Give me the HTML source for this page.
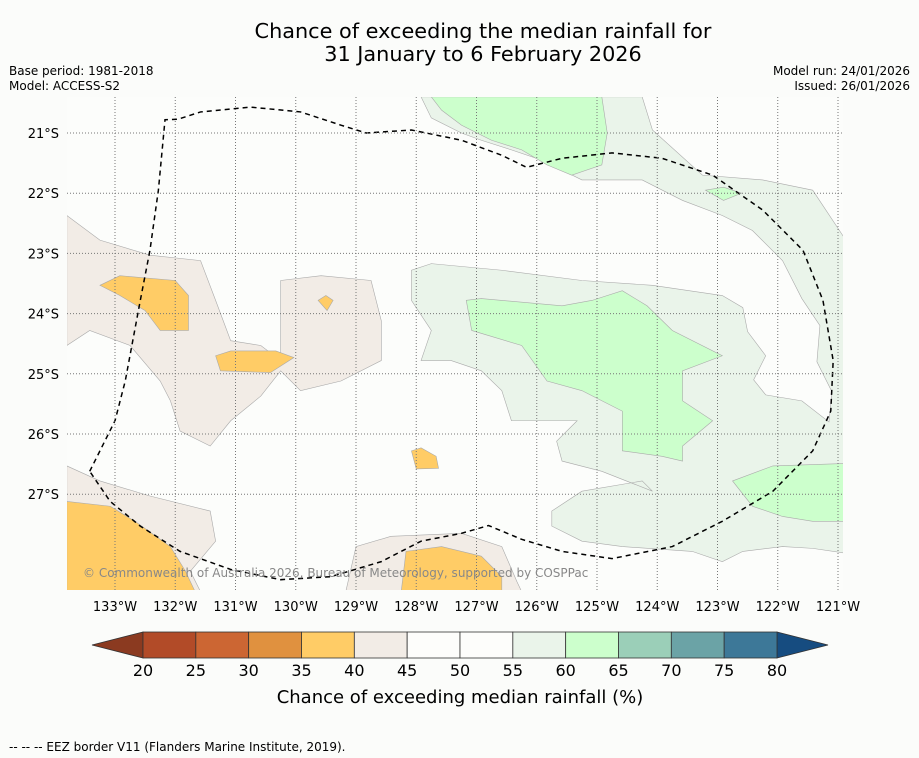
<!DOCTYPE html>
<html><head><meta charset="utf-8"><style>
body{margin:0;background:#fbfcfa;font-family:"DejaVu Sans","Liberation Sans",sans-serif;}
svg{display:block;font-family:"DejaVu Sans","Liberation Sans",sans-serif;}
</style></head><body>
<svg id="c" width="919" height="758" xmlns="http://www.w3.org/2000/svg">
<rect width="919" height="758" fill="#fbfcfa"/>
<text x="483" y="38" font-size="20.8" text-anchor="middle">Chance of exceeding the median rainfall for</text>
<text x="483" y="61" font-size="20.8" text-anchor="middle">31 January to 6 February 2026</text>
<text x="9" y="75" font-size="12">Base period: 1981-2018</text>
<text x="9" y="90" font-size="12">Model: ACCESS-S2</text>
<text x="910" y="75" font-size="12" text-anchor="end">Model run: 24/01/2026</text>
<text x="910" y="90" font-size="12" text-anchor="end">Issued: 26/01/2026</text>
<defs><clipPath id="pc"><rect x="67" y="97" width="776" height="493"/></clipPath></defs>
<g id="map" clip-path="url(#pc)">
<rect x="67" y="97" width="776" height="493" fill="#fcfdfb"/>
</g>
<g id="grid"></g>
<g id="axes"></g>
<text x="83" y="577" font-size="12" fill="#888">© Commonwealth of Australia 2026, Bureau of Meteorology, supported by COSPPac</text>
<g id="cbar"></g>
<text x="460" y="703" font-size="18" text-anchor="middle">Chance of exceeding median rainfall (%)</text>
<text x="9" y="751" font-size="12">--  --  -- EEZ border V11 (Flanders Marine Institute, 2019).</text>
</svg>
<script>
const lonTicks=[133,132,131,130,129,128,127,126,125,124,123,122,121];
const latTicks=[21,22,23,24,25,26,27];
const cbLevels=[20,25,30,35,40,45,50,55,60,65,70,75,80];
const cbColors=["#b24b28","#cc6633","#e0913f","#ffcc66","#f2ece6","#fdfdfb","#fdfdfb","#eaf4ea","#ccffcc","#9bcfb8","#6ba3a6","#3d7898"];
const shapeLevels=[42,42,42,57,38,38,38,38,38,38,62,62,62,62];
// polygons in [lon W, lat S]
const shapes=[
 [[133.8,22.37],[133.25,22.78],[132.42,23.03],[131.58,23.12],[131.33,23.78],[131.08,24.45],[130.58,24.53],[130.25,24.78],[130.25,23.45],[129.58,23.37],[128.75,23.45],[128.58,24.12],[128.58,24.78],[129.25,25.12],[129.92,25.28],[130.25,24.95],[130.58,25.37],[131.08,25.78],[131.42,26.2],[131.92,25.95],[132.08,25.45],[132.25,25.12],[132.75,24.53],[133.42,24.28],[133.8,24.53]],
 [[133.8,26.53],[133.25,26.78],[132.42,27.03],[131.42,27.28],[131.33,27.78],[131.75,28.28],[131.58,28.62],[133.8,28.62]],
 [[129.17,28.62],[129,27.87],[128.42,27.7],[127.25,27.65],[126.58,27.87],[126.33,28.45],[126.25,28.62]],
 [[127.92,20.4],[124.25,20.4],[124.08,20.95],[123.25,21.7],[122.25,21.78],[121.42,21.95],[120.87,22.78],[120.87,27.98],[121.42,27.9],[121.92,27.87],[122.58,27.95],[122.92,28.12],[123.42,27.95],[124.58,27.87],[125.25,27.78],[125.75,27.53],[125.75,27.28],[125.25,26.95],[124.25,26.78],[124.08,26.95],[124.92,26.62],[125.58,26.45],[125.67,26.12],[125.33,25.78],[126.42,25.78],[126.58,25.28],[126.92,24.95],[127.42,24.78],[127.92,24.78],[127.75,24.28],[128.08,23.78],[128.08,23.28],[127.75,23.17],[126.58,23.28],[125.25,23.45],[124.08,23.53],[122.92,23.7],[122.58,23.9],[122.5,24.3],[122.2,24.7],[122.4,25.1],[122.2,25.35],[121.6,25.45],[121.15,25.8],[121.1,25.3],[121.35,24.8],[121.3,24.2],[121.6,23.75],[121.92,23.12],[122.42,22.62],[122.92,22.37],[123.58,22.12],[124.25,21.78],[125.25,21.78],[125.92,21.45],[126.42,21.28],[126.92,21.12],[127.25,21],[127.75,20.75]],
 [[133.25,23.53],[132.92,23.37],[132,23.45],[131.78,23.7],[131.78,24.28],[132.25,24.28],[132.5,23.95],[132.92,23.7]],
 [[131.33,24.7],[131.08,24.62],[130.33,24.62],[130.03,24.73],[130.42,24.98],[131.25,24.95]],
 [[128.08,26.28],[127.92,26.23],[127.67,26.37],[127.63,26.57],[128,26.58]],
 [[129.63,23.78],[129.5,23.7],[129.38,23.78],[129.48,23.95]],
 [[133.8,27.12],[133.08,27.2],[132.67,27.45],[132.08,27.87],[131.83,28.28],[131.67,28.62],[133.8,28.62]],
 [[128.25,28.62],[128.17,27.95],[127.58,27.87],[126.92,28.03],[126.58,28.37],[126.58,28.62]],
 [[127.75,20.4],[124.92,20.4],[124.83,21],[124.92,21.53],[125.42,21.7],[125.83,21.53],[126.25,21.28],[126.75,21.12],[127.25,20.87],[127.58,20.62]],
 [[127.17,23.78],[126.92,23.75],[125.58,23.87],[125.08,23.78],[124.58,23.62],[124.17,23.87],[123.75,24.28],[122.92,24.7],[123.58,24.95],[123.58,25.45],[123.08,25.78],[123.58,26.2],[123.58,26.45],[123.92,26.37],[124.58,26.28],[124.58,25.62],[125.25,25.28],[125.83,25.12],[126.25,24.53],[127.08,24.28]],
 [[122.75,26.78],[122.08,26.53],[120.87,26.49],[120.87,27.45],[121.42,27.45],[121.92,27.37],[122.42,27.2]],
 [[123.2,21.95],[122.9,21.9],[122.6,22.0],[122.9,22.12]]
];
const eez=[[133.42,26.62],[133,25.78],[132.83,25.12],[132.58,23.78],[132.42,22.95],[132.28,21.95],[132.17,20.78],[131.95,20.77],[131.58,20.65],[130.75,20.57],[129.92,20.65],[129.25,20.87],[128.83,21],[128.08,20.95],[127.25,21.12],[126.58,21.37],[126.17,21.57],[125.58,21.42],[124.75,21.33],[123.92,21.42],[123.08,21.7],[122.25,22.28],[121.58,22.95],[121.25,23.78],[121.08,24.78],[121.12,25.62],[121.42,26.28],[122.08,26.95],[122.92,27.45],[123.75,27.87],[124.75,28.07],[125.58,27.95],[126.25,27.75],[126.8,27.52],[127.25,27.65],[127.92,27.78],[128.58,28.12],[129.42,28.37],[130.25,28.42],[131.08,28.25],[131.92,27.95],[132.58,27.53],[133.08,27.12],[133.42,26.62]];
const NS="http://www.w3.org/2000/svg";
const X=lon=>115+(133-lon)*60.25, Y=lat=>133+(lat-21)*60.2;
function colorFor(v){for(let i=0;i<cbLevels.length-1;i++){if(v>=cbLevels[i]&&v<cbLevels[i+1])return cbColors[i];}return cbColors[cbColors.length-1];}
function mk(t,a,p){const e=document.createElementNS(NS,t);for(const k in a)e.setAttribute(k,a[k]);p.appendChild(e);return e;}
const map=document.getElementById('map');
shapes.forEach((s,i)=>{const p=mk('polygon',{points:s.map(q=>X(q[0])+','+Y(q[1])).join(' '),fill:colorFor(shapeLevels[i]),stroke:'#aaa','stroke-width':0.6},map);

});
const grid=document.getElementById('grid'),axes=document.getElementById('axes');
lonTicks.forEach(l=>{const ln=mk('line',{x1:X(l),x2:X(l),y1:97,y2:590,stroke:'#777','stroke-width':1,'stroke-dasharray':'1,2'},grid);


const t=mk('text',{x:X(l),y:611,'font-size':13,'text-anchor':'middle'},axes);t.textContent=l+'°W';

});
latTicks.forEach(l=>{const ln=mk('line',{x1:67,x2:843,y1:Y(l),y2:Y(l),stroke:'#777','stroke-width':1,'stroke-dasharray':'1,2'},grid);


const t=mk('text',{x:59,y:Y(l)+5,'font-size':13,'text-anchor':'end'},axes);t.textContent=l+'°S';

});
const eb=mk('polyline',{points:eez.map(q=>X(q[0])+','+Y(q[1])).join(' '),fill:'none',stroke:'#000','stroke-width':1.5,'stroke-dasharray':'5,4'},map);


const cb=document.getElementById('cbar');
const cx=v=>143+(v-20)*(634/60);
mk('polygon',{points:'92,645 143,632 143,658',fill:'#8b3a20',stroke:'#333','stroke-width':0.8},cb);
mk('polygon',{points:'828,645 777,632 777,658',fill:'#164c80',stroke:'#333','stroke-width':0.8},cb);
cbColors.forEach((c,i)=>{const r=mk('rect',{x:cx(cbLevels[i]),y:632,width:cx(cbLevels[i+1])-cx(cbLevels[i]),height:26,fill:c,stroke:'#333','stroke-width':0.8},cb);

});
cbLevels.forEach(v=>{const t=mk('text',{x:cx(v),y:676,'font-size':16,'text-anchor':'middle'},cb);t.textContent=v;

});
</script>
</body></html>
